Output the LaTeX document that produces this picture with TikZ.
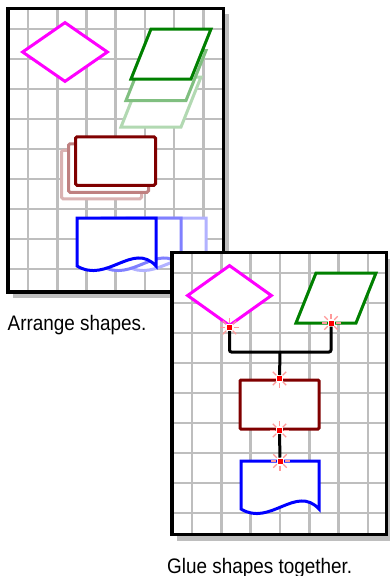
\documentclass[tikz,border=0pt]{standalone}
\usepackage{fontspec}
\setmainfont{Liberation Sans}[FakeStretch=0.9]
\usetikzlibrary{shapes.geometric}
\definecolor{vmagenta}{HTML}{FF00FF}
\definecolor{vgreen}{HTML}{008000}
\definecolor{vred}{HTML}{800000}
\definecolor{vblue}{HTML}{0000FF}
\definecolor{vgrid}{HTML}{BEBEBE}
\begin{document}
\begin{tikzpicture}[
    x=1pt, y=-1pt,
    shadow/.style={fill=vgrid, draw=none},
    sheet/.style={fill=white, draw=none},
    border/.style={draw=black, line width=3.5pt},
    gridline/.style={draw=vgrid, line width=2.6pt},
    fig/.style={line width=3pt, fill=white},
    dia/.style={fig, diamond, draw=vmagenta, minimum width=86pt, minimum height=60pt, inner sep=0pt},
    box/.style={fig, rectangle, rounded corners=1.5pt, minimum width=80pt, minimum height=48.5pt, inner sep=0pt},
    glue/.style={rectangle, fill=red, draw=white, line width=1pt, minimum size=6pt, inner sep=0pt},
    ray/.style={draw=red!40, line width=1.2pt},
    wire/.style={draw=black, line width=3pt, rounded corners=2pt},
    caption/.style={anchor=base west, inner sep=0pt, font=\fontsize{21}{25}\selectfont},
]
\useasboundingbox (0,0) rectangle (389,576);

% Panel 1: arrange shapes
\path[shadow] (13,14) rectangle (229,297.5);
\path[sheet] (8,8.5) rectangle (223.5,292);
\foreach \gy in {29,59,89,119,149,179,209,239,269}
  \draw[gridline] (9,\gy) -- (223,\gy);
\foreach \gx in {28,57.2,86.4,115.6,144.8,174,203.2}
  \draw[gridline] (\gx,9) -- (\gx,291);

\node[dia] (dia1) at (65,52) {};

\filldraw[fig, draw=vgreen!30] (141,77) -- (201,77) -- (181,127) -- (121,127) -- cycle;
\filldraw[fig, draw=vgreen!50] (146,50.5) -- (206,50.5) -- (186,100.5) -- (126,100.5) -- cycle;
\filldraw[fig, draw=vgreen] (151,29) -- (211,29) -- (191,79) -- (131,79) -- cycle;

\node[box, draw=vred!30] (box1c) at (101.5,174.5) {};
\node[box, draw=vred!50] (box1b) at (108.5,168) {};
\node[box, draw=vred] (box1) at (115.5,161) {};

\filldraw[fig, draw=vblue!30] (127,218) -- (206,218) -- (206,266) .. controls (183,241) and (157,284) .. (127,266) -- cycle;
\filldraw[fig, draw=vblue!50] (102,218) -- (181,218) -- (181,266) .. controls (158,241) and (132,284) .. (102,266) -- cycle;
\filldraw[fig, draw=vblue] (77,218) -- (156,218) -- (156,266) .. controls (133,241) and (107,284) .. (77,266) -- cycle;

\path[border] (8,8.5) rectangle (223.5,292);
\node[caption] (cap1) at (7.5,330) {Arrange shapes.};

% Panel 2: glue shapes together
\path[shadow] (177,258.5) rectangle (392,541);
\path[sheet] (172,252.5) rectangle (386.5,534.5);
\foreach \gy in {273,303,333,363,393,423,453,483,513}
  \draw[gridline] (173,\gy) -- (386,\gy);
\foreach \gx in {192,221.3,250.6,279.9,309.2,338.5,367.8}
  \draw[gridline] (\gx,253) -- (\gx,534);

\node[dia, minimum width=85pt, minimum height=61pt] (dia2) at (229.5,295.5) {};
\filldraw[fig, draw=vgreen] (316,273) -- (376,273) -- (356,323) -- (296,323) -- cycle;
\node[box, draw=vred, rounded corners=1pt, minimum width=79pt, minimum height=49pt] (box2) at (279.5,404.5) {};
\filldraw[fig, draw=vblue] (241,461) -- (319,461) -- (319,509) .. controls (296,484) and (270,527) .. (241,509) -- cycle;

\node[glue] (g1) at (dia2.south) {};
\node[glue] (g2) at (331,323) {};
\node[glue] (g3) at (box2.north) {};
\node[glue] (g4) at (box2.south) {};
\node[glue] (g5) at (280,461) {};
\coordinate (jn) at (280,352);

\foreach \g in {g1,g2,g3,g4,g5}
  \foreach \a in {0,45,...,315}
    \draw[ray] (\g.center) ++(\a:4.5pt) -- ++(\a:5pt);

\draw[wire] (g1) |- (jn) -| (g2);
\draw[wire] (jn) -- (g3);
\draw[wire] (g4) -- (g5);

\path[border] (172,252.5) rectangle (386.5,534.5);
\node[caption] (cap2) at (167,573) {Glue shapes together.};

\end{tikzpicture}
\end{document}
